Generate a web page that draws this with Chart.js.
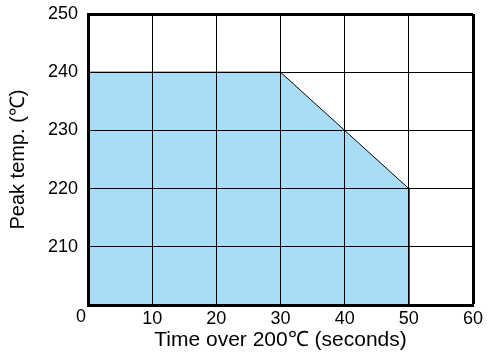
<!DOCTYPE html>
<html>
<head>
<meta charset="utf-8">
<script src="https://cdn.jsdelivr.net/npm/chart.js@4"></script>
<style>
  html, body { margin: 0; padding: 0; background: #fff; }
  #wrap { width: 488px; height: 356px; }
</style>
</head>
<body>
<div id="wrap"><canvas id="graf" width="488" height="356"></canvas></div>
<script>
// profile limits: time over 200C (s) vs peak temp (C)
const tempos = [0, 30, 40, 50, 50]
const picos = [240, 240, 230, 220, 200]
const xTicks = [0, 10, 20, 30, 40, 50, 60]
const yTicks = [200, 210, 220, 230, 240, 250]

const ctx = document.getElementById('graf').getContext('2d')

const fonte = '"Liberation Sans", Arial, sans-serif'
Chart.defaults.font.family = fonte
Chart.defaults.font.size = 18
Chart.defaults.color = '#000'

const pontos = tempos.map((t, i) => ({ x: t, y: picos[i] }))

// draws the lone "0" at the corner, a bit left of the origin
const zeroLabel = {
  id: 'zeroLabel',
  afterDraw(chart) {
    const x = chart.scales.x, y = chart.scales.y
    const c = chart.ctx
    c.save()
    c.font = '18px ' + fonte
    c.fillStyle = '#000'
    c.textAlign = 'center'
    c.textBaseline = 'middle'
    c.fillText('0', x.getPixelForValue(0) - 7, y.getPixelForValue(200) + 12)
    c.restore()
  }
}

const larg = v => (c2) => (c2.tick && c2.tick.value === v ? 3 : 1)

new Chart(ctx, {
  type: 'scatter',
  data: {
    datasets: [{
      data: pontos,
      showLine: true,
      fill: 'start',
      backgroundColor: '#a8dcf7',
      borderColor: '#000',
      borderWidth: 1,
      pointRadius: 0,
      tension: 0
    }]
  },
  options: {
    responsive: false,
    animation: false,
    layout: { padding: { top: 14, right: 15, left: 0, bottom: 0 } },
    plugins: { legend: { display: false }, tooltip: { enabled: false } },
    scales: {
      x: {
        type: 'linear', min: 0, max: 60,
        afterBuildTicks: s => { s.ticks = xTicks.map(v => ({ value: v })) },
        afterFit: s => { s.height = 51; s.paddingLeft = 0; s.paddingRight = 0 },
        grid: { color: '#000', lineWidth: larg(60), drawTicks: false, z: 1 },
        border: { color: '#000', width: 3, z: 1 },
        ticks: { padding: 3, callback: v => (v === 0 ? '' : v), maxRotation: 0 },
        title: { display: true, text: 'Time over 200℃ (seconds)', font: { size: 21 }, padding: { top: 0, bottom: 3 } }
      },
      y: {
        type: 'linear', min: 200, max: 250,
        afterBuildTicks: s => { s.ticks = yTicks.map(v => ({ value: v })) },
        afterFit: s => { s.width = 88; s.paddingTop = 0; s.paddingBottom = 0 },
        grid: { color: '#000', lineWidth: larg(250), drawTicks: false, z: 1 },
        border: { color: '#000', width: 3, z: 1 },
        ticks: { padding: 10, callback: v => (v === 200 ? '' : v) },
        title: { display: true, text: 'Peak temp. (℃)', font: { size: 20 }, padding: { top: 6, bottom: 0 } }
      }
    }
  },
  plugins: [zeroLabel]
})
</script>
</body>
</html>
